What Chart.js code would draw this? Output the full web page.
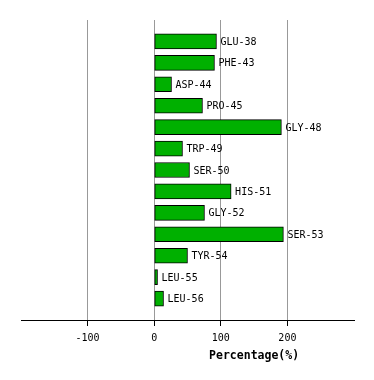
<!DOCTYPE html>
<html>
<head>
<meta charset="utf-8">
<script src="https://cdn.jsdelivr.net/npm/chart.js@4/dist/chart.umd.min.js"></script>
<style>
  html, body { margin: 0; padding: 0; background: #fff; }
  #wrap { width: 374px; height: 380px; }
</style>
</head>
<body>
<div id="wrap"><canvas id="chart" width="374" height="380"></canvas></div>
<script>
// residues and percentages
const residues = ['GLU-38', 'PHE-43', 'ASP-44', 'PRO-45', 'GLY-48', 'TRP-49', 'SER-50',
  'HIS-51', 'GLY-52', 'SER-53', 'TYR-54', 'LEU-55', 'LEU-56'];
const percentages = [93.5, 90.5, 26, 72.5, 191, 42.5, 53, 115.5, 75.5, 194, 50, 5, 14];
const tickValues = [-100, 0, 100, 200];
const axisTitle = 'Percentage(%)';

const MONO = '"DejaVu Sans Mono", "Liberation Mono", monospace';

// draws the residue names after each bar and the x axis title
const labelPlugin = {
  id: 'labels',
  afterDatasetsDraw(chart) {
    const ctx = chart.ctx;
    const meta = chart.getDatasetMeta(0);
    ctx.save();
    ctx.fillStyle = '#000';
    ctx.font = '10px ' + MONO;
    ctx.textAlign = 'left';
    ctx.textBaseline = 'middle';
    meta.data.forEach((bar, i) => {
      ctx.fillText(residues[i], bar.x + 4, bar.y + 1);
    });

    const x = chart.scales.x;
    const mid = (x.getPixelForValue(0) + chart.chartArea.right) / 2;
    ctx.font = 'bold 11.5px ' + MONO;
    ctx.textAlign = 'center';
    ctx.fillText(axisTitle, mid, 356);
    ctx.restore();
  }
};

const shown = v => tickValues.includes(v);

new Chart(document.getElementById('chart'), {
  type: 'bar',
  data: {
    datasets: [{
      data: percentages.map((v, i) => ({ x: v, y: i })),
      backgroundColor: '#00b000',
      borderColor: '#000',
      borderWidth: 1,
      borderSkipped: false,
      barThickness: 15
    }]
  },
  options: {
    indexAxis: 'y',
    responsive: false,
    animation: false,
    layout: { padding: { top: 20, left: 21, right: 20, bottom: 0 } },
    scales: {
      x: {
        type: 'linear',
        min: -200,
        max: 300,
        afterFit: s => { s.height = 60; },
        afterBuildTicks: s => { s.ticks = [-200, -100, 0, 100, 200, 300].map(v => ({ value: v })); },
        border: { display: true, color: '#000', width: 1 },
        grid: {
          color: c => shown(c.tick.value) ? '#999' : 'rgba(0,0,0,0)',
          tickColor: c => shown(c.tick.value) ? '#000' : 'rgba(0,0,0,0)',
          tickLength: 6,
          lineWidth: 1
        },
        ticks: {
          color: '#000',
          font: { family: MONO, size: 10 },
          padding: 6,
          maxRotation: 0,
          autoSkip: false,
          callback: v => shown(v) ? String(v) : ''
        }
      },
      y: {
        type: 'linear',
        min: -1,
        max: 13,
        reverse: true,
        offset: false,
        display: false
      }
    },
    plugins: {
      legend: { display: false },
      tooltip: { enabled: false }
    }
  },
  plugins: [labelPlugin]
});
</script>
</body>
</html>
